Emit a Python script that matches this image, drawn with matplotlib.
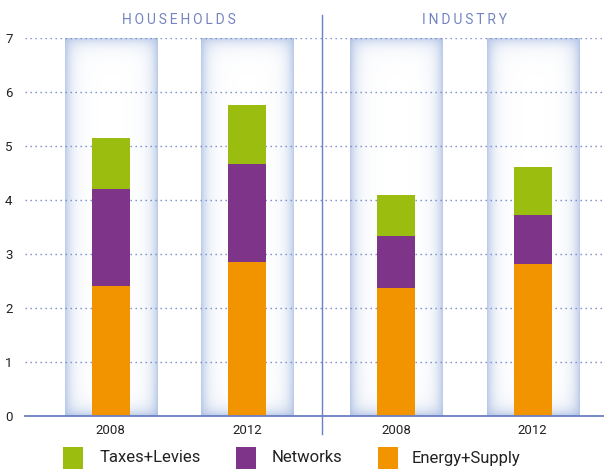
import numpy as np
import matplotlib
matplotlib.use("Agg")
import matplotlib.pyplot as plt
from matplotlib.patches import Rectangle

plt.rcParams["font.family"] = ["Liberation Sans Narrow", "Roboto", "DejaVu Sans"]

# --------------------------------------------------
# DATA (price components, stacked bottom -> top)
# --------------------------------------------------
groups = ["HOUSEHOLDS", "INDUSTRY"]
years = ["2008", "2012", "2008", "2012"]
energy_supply = [2.41, 2.85, 2.37, 2.81]
networks = [1.79, 1.82, 0.96, 0.91]
taxes_levies = [0.95, 1.09, 0.76, 0.89]

series_names = ["Taxes+Levies", "Networks", "Energy+Supply"]
colors = {"Energy+Supply": "#f29400", "Networks": "#7e3589", "Taxes+Levies": "#9bbd10"}

# --------------------------------------------------
# LAYOUT
# --------------------------------------------------
x = np.array([0.0, 1.0, 2.096, 3.096])
bar_w = 0.28
pillar_w = 0.676
y_max = 7
axis_blue = "#6b7fc2"

fig = plt.figure(figsize=(6.04, 4.69), dpi=100)
W, H = 604, 469
ax = fig.add_axes([25 / W, 1 - 416 / H, (604 - 25) / W, (416 - 38) / H])
ax.set_xlim(-0.63, 3.62)
ax.set_ylim(0, y_max)

# soft glowing background columns (each edge fades in towards the centre)
ph, pw = 378, 92
yy, xx = np.mgrid[0:ph, 0:pw].astype(float)
inv = np.ones((ph, pw))
for dist in [xx, pw - 1 - xx, yy, ph - 1 - yy]:
    inv *= 1 - 0.75 * np.exp(-dist / 6.5)
alpha = 1 - inv
glow = np.zeros((ph, pw, 4))
glow[..., 0] = 0.66
glow[..., 1] = 0.74
glow[..., 2] = 0.89
glow[..., 3] = np.clip(alpha, 0, 1)
for xi in x:
    ax.add_patch(Rectangle((xi - pillar_w / 2, 0), pillar_w, y_max,
                           facecolor="white", edgecolor="none", zorder=1))
    ax.imshow(glow, extent=(xi - pillar_w / 2, xi + pillar_w / 2, 0, y_max),
              aspect="auto", zorder=1.5, interpolation="bilinear")

# dotted gridlines
for gy in range(1, y_max + 1):
    ax.axhline(gy, color="#7587c8", linewidth=1.0, linestyle=(0, (1, 2.6)), zorder=2)

# stacked bars
bottom = np.zeros(len(x))
for name, vals in [("Energy+Supply", energy_supply), ("Networks", networks),
                   ("Taxes+Levies", taxes_levies)]:
    ax.bar(x, vals, width=bar_w, bottom=bottom, color=colors[name],
           linewidth=0, zorder=3)
    bottom += np.array(vals)

# axes styling
for s in ["top", "right", "left"]:
    ax.spines[s].set_visible(False)
ax.spines["bottom"].set_color(axis_blue)
ax.spines["bottom"].set_linewidth(1.3)
ax.spines["bottom"].set_zorder(4)

ax.set_yticks(range(0, y_max + 1))
ax.set_xticks(x)
ax.set_xticklabels(years)
ax.tick_params(axis="both", length=0, labelsize=9.5, colors="#222222")
ax.tick_params(axis="y", pad=9)
ax.tick_params(axis="x", pad=6)

# divider between the two groups
mid = (x[1] + x[2]) / 2
ax.plot([mid, mid], [-0.33, 7.42], color=axis_blue, linewidth=1.0,
        clip_on=False, zorder=4)

# group headings
spaced = ["\u2009".join(g) for g in groups]
for label, cx in zip(spaced, [(x[0] + x[1]) / 2, (x[2] + x[3]) / 2]):
    ax.text(cx, 7.33, label, ha="center", va="center", fontsize=10,
            color="#7384c0")

# legend row
leg_ax = fig.add_axes([0, 0, 1, 1], frameon=False)
leg_ax.set_xlim(0, W)
leg_ax.set_ylim(H, 0)
leg_ax.set_axis_off()
for name, sx, tx in zip(series_names, [63, 236, 378], [100, 272, 412]):
    leg_ax.add_patch(Rectangle((sx, 447), 20, 22, facecolor=colors[name],
                               edgecolor="none"))
    leg_ax.text(tx, 458, name, ha="left", va="center", fontsize=12,
                color="#222222")

fig.savefig("out.png", dpi=100)
